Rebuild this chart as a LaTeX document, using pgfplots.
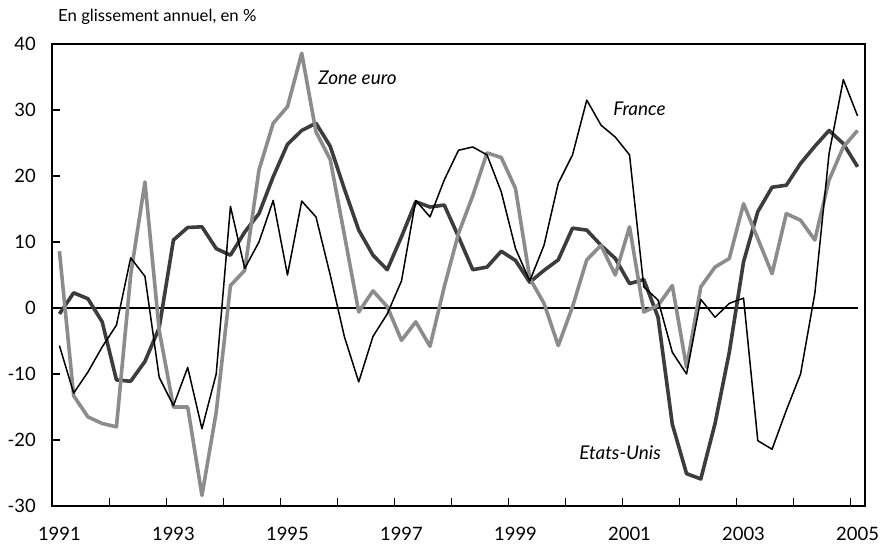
\documentclass[border=0pt]{standalone}
\usepackage{pgfplots}
\pgfplotsset{compat=1.18}
\usepackage{pgfplotstable}
\usepackage{fontspec}
\setmainfont{Lato}

% glissement annuel, trimestriel 1991T1-2005T1 (index 0..56)
\pgfplotstableread{
i   fr     us     ez
0   -5.7   -0.9   8.6
1   -12.9  2.3    -13.3
2   -9.7   1.4    -16.5
3   -5.9   -2.1   -17.5
4   -2.6   -10.9  -18.0
5   7.6    -11.1  5.0
6   4.8    -8.1   19.1
7   -10.5  -3.0   -3.4
8   -14.8  10.3   -15.0
9   -9.0   12.2   -15.0
10  -18.3  12.3   -28.4
11  -10.0  9.0    -15.8
12  15.4   8.0    3.4
13  6.0    11.5   5.7
14  10.0   14.3   20.9
15  16.3   19.9   28.0
16  5.0    24.8   30.5
17  16.2   26.9   38.6
18  13.8   28.0   26.7
19  5.0    24.5   22.5
20  -4.4   18.0   11.0
21  -11.2  11.8   -0.6
22  -4.3   8.0    2.6
23  -0.9   5.8    0.2
24  4.1    10.8   -4.9
25  16.3   16.1   -2.1
26  13.8   15.3   -5.8
27  19.4   15.6   3.2
28  23.9   10.8   11.3
29  24.4   5.8    17.0
30  23.2   6.2    23.5
31  17.6   8.6    22.8
32  9.0    7.2    18.1
33  4.1    3.9    4.5
34  9.5    5.7    0.7
35  18.9   7.3    -5.7
36  23.2   12.1   0.2
37  31.5   11.8   7.3
38  27.7   9.5    9.5
39  25.9   7.5    5.0
40  23.2   3.7    12.3
41  3.2    4.3    -0.6
42  1.2    -1.4   0.4
43  -6.7   -17.6  3.4
44  -10.0  -25.1  -9.0
45  1.3    -25.9  3.2
46  -1.4   -17.5  6.2
47  0.7    -6.7   7.5
48  1.5    7.0    15.8
49  -20.1  14.6   10.5
50  -21.4  18.3   5.2
51  -15.5  18.6   14.3
52  -10.0  21.9   13.3
53  2.2    24.5   10.3
54  23.4   26.9   19.4
55  34.6   24.9   24.4
56  29.1   21.4   26.9
}\data

\definecolor{usgray}{HTML}{3C3C3C}
\definecolor{ezgray}{HTML}{8C8C8C}

\begin{document}
\begin{tikzpicture}
\useasboundingbox (0,0) rectangle (884bp,549bp);
\begin{axis}[
    at={(52.3bp,43bp)}, anchor=south west,
    scale only axis, width=812.4bp, height=462bp,
    xmin=-0.5, xmax=56.5, ymin=-30, ymax=40,
    ytick={-30,-20,...,40},
    yticklabels={-30,-20,-10,0,10,20,30,40},
    xtick={3.5,7.5,...,55.5}, xticklabels={},
    extra x ticks={0,8,...,56},
    extra x tick labels={1991,1993,1995,1997,1999,2001,2003,2005},
    extra x tick style={major tick length=0pt},
    tick align=inside, major tick length=8bp,
    xtick pos=bottom, ytick pos=left,
    axis line style={line width=2.2bp},
    tick style={line width=1.5bp, black},
    ticklabel style={font=\fontsize{18.5}{20}\selectfont},
    xticklabel style={yshift=-18bp},
    yticklabel style={xshift=-13bp},
    clip=false,
  ]
  \draw[black, line width=1.4bp] (axis cs:-0.5,0) -- (axis cs:56,0);
  \addplot[usgray, line width=3.6bp, line join=round] table[x=i, y=us] {\data};
  \addplot[ezgray, line width=3.6bp, line join=round] table[x=i, y=ez] {\data};
  \addplot[black, line width=1.5bp, line join=round] table[x=i, y=fr] {\data};

  \node[anchor=west, font=\fontsize{16.8}{18}\selectfont, inner sep=0pt] at (rel axis cs:0.007,1.058) {En glissement annuel, en \%};
  \node[anchor=west, font=\itshape\fontsize{19}{21}\selectfont, inner sep=0pt] at (axis cs:18.15,34.9) {Zone euro};
  \node[anchor=west, font=\itshape\fontsize{19}{21}\selectfont, inner sep=0pt] at (axis cs:38.85,30.2) {France};
  \node[anchor=west, font=\itshape\fontsize{19}{21}\selectfont, inner sep=0pt] at (axis cs:36.46,-21.9) {Etats-Unis};
\end{axis}
\end{tikzpicture}
\end{document}
